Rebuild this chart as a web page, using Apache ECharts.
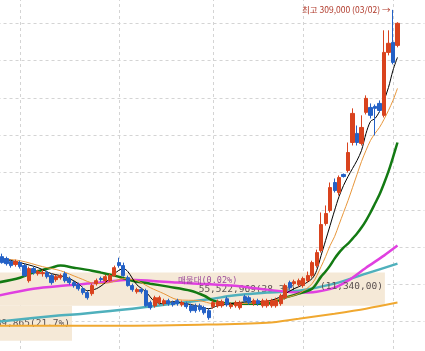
<!DOCTYPE html>
<html>
<head>
<meta charset="utf-8">
<script src="https://cdn.jsdelivr.net/npm/echarts@6/dist/echarts.min.js"></script>
<style>
  html, body { margin: 0; padding: 0; background: #fff; }
  #chart { width: 425px; height: 351px; }
</style>
</head>
<body>
<div id="chart"></div>
<script>
// 거래일 (2022/10/25 ~ 2023/03/03)
var dates = [
  '2022/10/25','2022/10/26','2022/10/27','2022/10/28','2022/10/31',
  '2022/11/01','2022/11/02','2022/11/03','2022/11/04','2022/11/07','2022/11/08','2022/11/09','2022/11/10','2022/11/11',
  '2022/11/14','2022/11/15','2022/11/16','2022/11/17','2022/11/18','2022/11/21','2022/11/22','2022/11/23','2022/11/24',
  '2022/11/25','2022/11/28','2022/11/29','2022/11/30',
  '2022/12/01','2022/12/02','2022/12/05','2022/12/06','2022/12/07','2022/12/08','2022/12/09','2022/12/12','2022/12/13',
  '2022/12/14','2022/12/15','2022/12/16','2022/12/19','2022/12/20','2022/12/21','2022/12/22','2022/12/23','2022/12/26',
  '2022/12/27','2022/12/28','2022/12/29',
  '2023/01/02','2023/01/03','2023/01/04','2023/01/05','2023/01/06','2023/01/09','2023/01/10','2023/01/11','2023/01/12',
  '2023/01/13','2023/01/16','2023/01/17','2023/01/18','2023/01/19','2023/01/20','2023/01/25','2023/01/26','2023/01/27',
  '2023/01/30','2023/01/31',
  '2023/02/01','2023/02/02','2023/02/03','2023/02/06','2023/02/07','2023/02/08','2023/02/09','2023/02/10','2023/02/13',
  '2023/02/14','2023/02/15','2023/02/16','2023/02/17','2023/02/20','2023/02/21','2023/02/22','2023/02/23','2023/02/24',
  '2023/02/27','2023/02/28',
  '2023/03/02','2023/03/03'
];
// 오른쪽 여백 칸
var blankDays = ['', '', '', '', '', ''];

// [시가, 종가, 저가, 고가]
var candles = [
  [147700,142300,140900,150300],[143600,139600,138900,145600],[142300,138900,137600,143600],[140300,137600,136200,141600],
  [138300,140300,136900,141600],[139600,136900,135600,140900],[137600,130900,130200,138900],[127500,135600,126200,136900],
  [135600,132900,131500,136900],[132200,133600,130900,134900],[132200,132900,130200,134900],[132900,130200,128900,134200],
  [130900,126200,124800,132200],[128200,130200,126800,131500],[129500,130900,128200,132200],[132200,127500,126200,133600],
  [128900,126200,124800,130200],[126200,124200,122800,127500],[124800,122100,120800,126200],[122100,119500,118100,123500],
  [119500,116100,114800,120800],[118800,124200,117400,125500],[125500,127500,124200,128900],[128900,128200,126800,130200],
  [127500,130200,126200,131500],[127500,130900,126800,132200],[130900,136200,130200,137600],[139600,137600,136200,142900],
  [137600,130900,130200,139600],[129500,124200,123500,130900],[124200,121500,120100,125500],[120100,121500,118800,122800],
  [121500,120100,118800,122800],[120800,110700,110100,122100],[112800,109400,108100,114100],[110700,116100,109400,117400],
  [112800,116100,111400,117400],[112100,114100,110700,115400],[114100,112100,110700,115400],[112800,111400,110100,114100],
  [114100,112100,110700,115400],[111400,112800,110100,114100],[112100,110100,108700,113400],[110700,107400,106000,112100],
  [110700,107400,106000,112100],[110700,108100,106700,112100],[109400,106000,104700,110700],[107400,102700,101300,108700],
  [110100,112800,108700,114100],[110700,113400,109400,114800],[110700,113400,109400,114800],[115400,111400,110100,116800],
  [110100,111400,108700,112800],[110700,112800,109400,114100],[109400,112800,108100,114100],[116800,114100,112800,118100],
  [116100,112800,111400,117400],[112100,114100,110700,115400],[114100,112100,110700,115400],[110700,114100,109400,115400],
  [110700,114100,109400,115400],[110700,114100,109400,115400],[110700,114100,109400,116100],[112100,117400,110700,118800],
  [116100,124200,114800,125500],[126200,122800,121500,127500],[125500,126800,124200,128200],[124800,127500,123500,128900],
  [124200,128900,122800,130200],[127500,130900,126200,133600],[130900,139600,129500,140900],[137600,146300,136200,148300],
  [147700,165100,146300,173200],[165800,172500,164400,177900],[174500,189900,173200,193300],[193300,187900,186600,196000],
  [186600,196600,184600,198000],[198700,197300,196600,199300],[201300,213400,200000,220100],[220100,239600,218100,243000],
  [226200,220100,218100,231500],[219500,230200,218100,238300],[240300,249700,238900,251700],[243600,238300,236200,246300],
  [244300,243000,224800,245600],[246300,241600,240300,248300],[238300,280500,236900,295300],[280500,286600,278500,295300],
  [287200,273800,272500,309000],[285200,300000,283900,300700]
];

// 이동평균선 (차트에서 읽은 값, [일자 번호, 가격])
var ma5 = [[0,142900],[5,139600],[9,136200],[12,132200],[14,130900],[16,128900],[18,125500],[20,120800],[22,122100],
  [24,126200],[26,132200],[28,135600],[29,133600],[31,124800],[33,120100],[35,113400],[37,112100],[39,113400],[42,112100],
  [45,110100],[47,108700],[49,110700],[52,112100],[56,113400],[59,113400],[62,115400],[64,118800],[66,122100],[68,124800],
  [70,128900],[71,134200],[72,144300],[73,154400],[74,164400],[75,174500],[76,183900],[77,191300],[78,197300],[79,202700],
  [80,208100],[81,214800],[82,226200],[83,234200],[84,236200],[85,240900],[86,248300],[87,257000],[88,268500],[89,277200]];
var ma10 = [[0,142300],[5,140900],[10,136900],[14,134200],[18,129500],[22,125500],[25,126200],[28,128900],[31,127500],
  [34,122800],[37,118800],[40,114800],[45,114100],[48,112100],[53,112100],[58,112800],[63,115400],[67,118800],[70,125500],
  [72,136900],[73,143600],[74,151000],[75,157000],[76,165100],[77,173200],[78,181200],[79,189900],[80,198700],[81,207400],
  [82,214800],[83,221500],[84,226200],[85,230200],[86,235600],[87,241600],[88,248300],[89,256400]];
var ma20 = [[0,126200],[5,129500],[8,132900],[12,136200],[14,137600],[17,136200],[21,134200],[23,132900],[26,130900],
  [30,127500],[34,125500],[38,123500],[43,120800],[46,117400],[48,114100],[52,112100],[60,112100],[64,116100],[67,118800],
  [70,122100],[72,130200],[73,133600],[74,137600],[75,142300],[76,146300],[77,149700],[78,152300],[79,155700],[80,159100],
  [81,163100],[82,167800],[83,173200],[84,179200],[85,185200],[86,192600],[87,200700],[88,210100],[89,220100]];
var ma60 = [[0,117400],[8,122100],[15,124200],[23,126200],[29,128200],[34,127500],[40,126200],[45,125500],[52,124200],
  [60,121500],[67,119500],[71,120100],[75,122800],[78,127500],[82,136200],[86,144300],[89,151000]];
var ma120 = [[0,100000],[13,104000],[19,105400],[30,108700],[41,112800],[48,115400],[52,117400],[60,119500],[67,120800],
  [75,125500],[82,132200],[89,138900]];
var ma240 = [[0,97300],[23,97300],[45,98000],[60,99300],[67,102000],[75,105400],[82,108700],[89,112800]];

// 매물대 [하단가, 상단가, 거래량, 비율]
var volProfile = [
  [110700, 132900, 55522969, 38.3],
  [87300, 110700, 30689865, 21.7]
];
var highPrice = 309000;
var highIndex = 88;

var chart = echarts.init(document.getElementById('chart'));
var cats = dates.concat(blankDays);
var font = '"Noto Sans CJK KR", "Noto Sans", sans-serif';
var monoFont = '"DejaVu Sans Mono", "Noto Sans CJK KR", monospace';
// 매물대 라벨: 막대 끝에서 안쪽으로 띄우는 거리(px)
var labelInset = [89, 2];

function maLine(name, data, color, width, type) {
  return {
    name: name, type: 'line', data: data, symbol: 'none', smooth: 0.3,
    silent: true, z: 3,
    lineStyle: { color: color, width: width, type: type || 'solid' }
  };
}

chart.setOption({
  animation: false,
  backgroundColor: '#fff',
  grid: { left: -2.47, right: 0.57, top: -14, bottom: -8, outerBoundsMode: 'none', containLabel: false },
  xAxis: [{
    type: 'category', data: cats, boundaryGap: false,
    axisLine: { show: false }, axisTick: { show: false }, axisLabel: { show: false },
    splitLine: {
      show: true,
      interval: function (i, v) {
        return i > 0 && v !== '' && cats[i - 1] !== '' && v.slice(5, 7) !== cats[i - 1].slice(5, 7);
      },
      lineStyle: { color: '#d4d4d4', type: [3, 3] }
    }
  }, {
    type: 'value', show: false, min: 24780000, max: 58660000
  }],
  yAxis: {
    type: 'value', min: 75000, max: 325000, interval: 25000,
    axisLine: { show: false }, axisTick: { show: false }, axisLabel: { show: false },
    splitLine: { lineStyle: { color: '#d4d4d4', type: [3, 3] } }
  },
  graphic: [
    { type: 'text', left: 178, top: 277, z: 10, silent: true,
      style: { text: '매물대(0.02%)', fill: '#9b4a9b', font: '8.5px ' + monoFont } },
    { type: 'text', left: 320, top: 282, z: 10, silent: true,
      style: { text: '(11,340,00)', fill: '#5a5050', font: '9.5px ' + monoFont } }
  ],
  series: [
    {
      type: 'custom', xAxisIndex: 1, yAxisIndex: 0, z: 1, silent: true,
      data: volProfile,
      renderItem: function (params, api) {
        var p0 = api.coord([0, api.value(1)]);
        var p1 = api.coord([api.value(2), api.value(0)]);
        var txt = api.value(2).toLocaleString('en-US') + '(' + api.value(3).toFixed(1) + '%)';
        return {
          type: 'group',
          children: [{
            type: 'rect',
            shape: { x: p0[0], y: p0[1], width: p1[0] - p0[0], height: p1[1] - p0[1] },
            style: { fill: '#f5e9d7' }
          }, {
            type: 'text', z2: 10,
            style: {
              x: p1[0] - labelInset[params.dataIndex], y: (p0[1] + p1[1]) / 2, text: txt,
              align: 'right', verticalAlign: 'middle',
              fill: '#5a5050', font: '9.5px ' + monoFont
            }
          }]
        };
      }
    },
    maLine('MA240', ma240, '#f0a830', 2),
    maLine('MA120', ma120, '#4fb0bc', 2.5),
    maLine('MA60', ma60, '#e040e0', 2.5),
    maLine('MA20', ma20, '#137a13', 2.5),
    maLine('MA10', ma10, '#e8963a', 1),
    maLine('MA5', ma5, '#000000', 1),
    {
      type: 'candlestick', data: candles, barWidth: 3.6, z: 4,
      itemStyle: { color: '#d9431e', color0: '#2461c6', borderColor: '#d9431e', borderColor0: '#2461c6', borderWidth: 1 },
      markPoint: {
        symbol: 'circle', symbolSize: 1,
        itemStyle: { color: 'transparent' },
        data: [{ coord: [highIndex, highPrice], value: highPrice }],
        label: {
          show: true, position: 'left', distance: 2,
          formatter: '최고 ' + highPrice.toLocaleString('en-US') + ' (' + dates[highIndex].slice(5) + ') →',
          color: '#b0392a', fontSize: 8.5, fontFamily: font
        }
      }
    }
  ]
});
</script>
</body>
</html>
